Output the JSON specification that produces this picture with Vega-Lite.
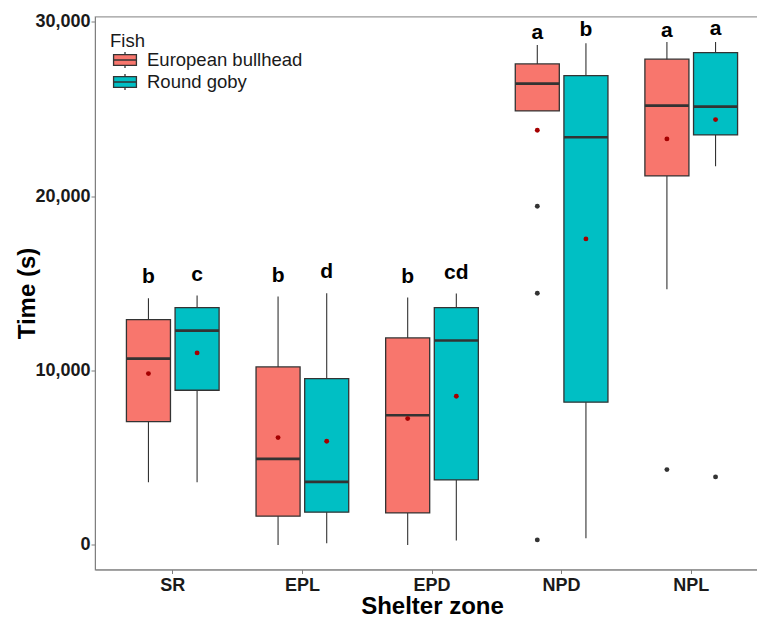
{
  "$schema": "https://vega.github.io/schema/vega-lite/v6.json",
  "autosize": {"type": "none"},
  "padding": {"left": 95, "top": 16.5, "right": 0, "bottom": 47},
  "width": 674,
  "height": 553,
  "config": {
    "font": "Liberation Sans",
    "view": {"stroke": "#9a9a9a", "strokeWidth": 1.2},
    "axis": {"grid": false}
  },
  "datasets": {
    "stats": [
      {"zone": "SR", "fish": "European bullhead", "lower": 3593, "q1": 7068, "median": 10680, "q3": 12915, "upper": 14142, "mean": 9820, "letter": "b", "ly": 15002},
      {"zone": "SR", "fish": "Round goby", "lower": 3593, "q1": 8866, "median": 12284, "q3": 13603, "upper": 14291, "mean": 11006, "letter": "c", "ly": 15151},
      {"zone": "EPL", "fish": "European bullhead", "lower": 0, "q1": 1645, "median": 4930, "q3": 10203, "upper": 14234, "mean": 6151, "letter": "b", "ly": 15093},
      {"zone": "EPL", "fish": "Round goby", "lower": 97, "q1": 1874, "median": 3611, "q3": 9533, "upper": 14428, "mean": 5944, "letter": "d", "ly": 15288},
      {"zone": "EPD", "fish": "European bullhead", "lower": 0, "q1": 1834, "median": 7433, "q3": 11866, "upper": 14176, "mean": 7240, "letter": "b", "ly": 15002},
      {"zone": "EPD", "fish": "Round goby", "lower": 248, "q1": 3726, "median": 11713, "q3": 13603, "upper": 14405, "mean": 8524, "letter": "cd", "ly": 15231},
      {"zone": "NPD", "fish": "European bullhead", "lower": 24878, "q1": 24878, "median": 26444, "q3": 27573, "upper": 28662, "mean": 23771, "letter": "a", "ly": 28988},
      {"zone": "NPD", "fish": "Round goby", "lower": 383, "q1": 8180, "median": 23371, "q3": 26903, "upper": 28757, "mean": 17541, "letter": "b", "ly": 29195},
      {"zone": "NPL", "fish": "European bullhead", "lower": 14657, "q1": 21152, "median": 25183, "q3": 27842, "upper": 28834, "mean": 23273, "letter": "a", "ly": 29137},
      {"zone": "NPL", "fish": "Round goby", "lower": 21708, "q1": 23503, "median": 25126, "q3": 28220, "upper": 28834, "mean": 24380, "letter": "a", "ly": 29235}
    ],
    "outliers": [
      {"zone": "NPD", "fish": "European bullhead", "time": 19415},
      {"zone": "NPD", "fish": "European bullhead", "time": 14428},
      {"zone": "NPD", "fish": "European bullhead", "time": 287},
      {"zone": "NPL", "fish": "European bullhead", "time": 4316},
      {"zone": "NPL", "fish": "Round goby", "time": 3898}
    ]
  },
  "encoding": {
    "x": {
      "field": "zone", "type": "nominal",
      "scale": {"domain": ["SR", "EPL", "EPD", "NPD", "NPL"], "paddingInner": 0, "paddingOuter": 0.1},
      "axis": {
        "title": "Shelter zone", "labelAngle": 0,
        "labelFontSize": 18, "labelFontWeight": "bold", "labelColor": "#1a1a1a",
        "labelPadding": 3, "tickSize": 4, "tickColor": "#7f7f7f", "domainColor": "#7f7f7f",
        "titleFontSize": 24, "titleFontWeight": "bold", "titleColor": "#000000",
        "titleX": 337, "titleY": 37, "titleBaseline": "middle", "titleAnchor": "middle"
      }
    },
    "xOffset": {
      "field": "fish", "type": "nominal",
      "scale": {"domain": ["European bullhead", "Round goby"], "paddingInner": 0.0947, "paddingOuter": 0.3797}
    }
  },
  "layer": [
    {
      "data": {"name": "stats"},
      "mark": {"type": "rule", "color": "#333333", "strokeWidth": 1.1},
      "encoding": {
        "y": {
          "field": "lower", "type": "quantitative",
          "scale": {"domain": [-1410, 30290], "nice": false, "zero": false},
          "axis": {
            "title": "Time (s)", "values": [0, 10000, 20000, 30000], "format": ",d",
            "labelFontSize": 18, "labelFontWeight": "bold", "labelColor": "#1a1a1a",
            "labelPadding": 1, "tickSize": 4, "tickColor": "#7f7f7f", "domainColor": "#7f7f7f",
            "titleFontSize": 24, "titleFontWeight": "bold", "titleColor": "#000000",
            "titleX": -68, "titleY": 276.5, "titleBaseline": "middle", "titleAnchor": "middle"
          }
        },
        "y2": {"field": "upper"}
      }
    },
    {
      "data": {"name": "stats"},
      "mark": {"type": "bar", "stroke": "#333333", "strokeWidth": 1.3},
      "encoding": {
        "y": {"field": "q1", "type": "quantitative"},
        "y2": {"field": "q3"},
        "color": {
          "field": "fish", "type": "nominal",
          "scale": {"domain": ["European bullhead", "Round goby"], "range": ["#F8766D", "#00BFC4"]},
          "legend": {
            "title": "Fish", "orient": "none", "legendX": 15, "legendY": 15,
            "titleFontSize": 18.5, "titleFontWeight": "normal", "titleColor": "#1a1a1a", "titlePadding": 0,
            "labelFontSize": 18.5, "labelColor": "#1a1a1a", "labelOffset": 12,
            "symbolType": "M-1.27,-0.59H1.27V0.59H-1.27Z M-1.27,0H1.27 M0,-0.59V-0.89 M0,0.59V0.89",
            "symbolSize": 324, "symbolStrokeColor": "#333333", "symbolStrokeWidth": 1.3,
            "symbolOpacity": 1, "rowPadding": 0, "symbolOffset": 5
          }
        }
      }
    },
    {
      "data": {"name": "stats"},
      "mark": {"type": "tick", "orient": "horizontal", "color": "#333333", "thickness": 2.6, "size": 44, "opacity": 1},
      "encoding": {
        "y": {"field": "median", "type": "quantitative"}
      }
    },
    {
      "data": {"name": "outliers"},
      "mark": {"type": "circle", "color": "#333333", "size": 24, "opacity": 1},
      "encoding": {
        "y": {"field": "time", "type": "quantitative"}
      }
    },
    {
      "data": {"name": "stats"},
      "mark": {"type": "circle", "color": "#a50000", "size": 24, "opacity": 1},
      "encoding": {
        "y": {"field": "mean", "type": "quantitative"}
      }
    },
    {
      "data": {"name": "stats"},
      "mark": {"type": "text", "fontSize": 21, "fontWeight": "bold", "color": "#000000", "baseline": "alphabetic"},
      "encoding": {
        "y": {"field": "ly", "type": "quantitative"},
        "text": {"field": "letter"}
      }
    }
  ]
}
